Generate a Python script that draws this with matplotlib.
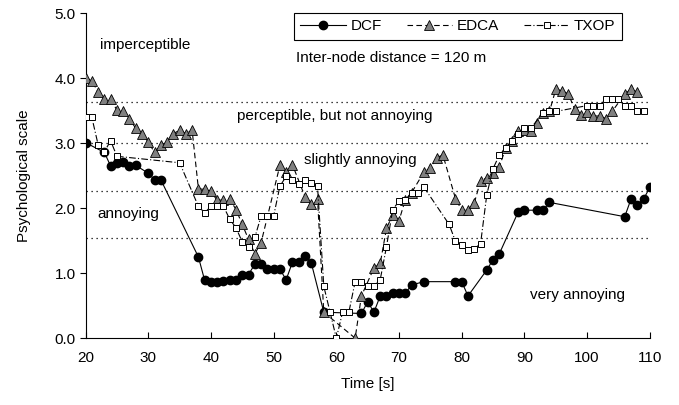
import matplotlib
matplotlib.use("Agg")
import matplotlib.pyplot as plt

plt.rcParams['font.family'] = ['Liberation Sans', 'DejaVu Sans']
plt.rcParams['font.size'] = 11

# DCF
dcf_t = [20, 23, 24, 25, 26, 27, 28, 30, 31, 32, 38, 39, 40, 41, 42, 43, 44, 45, 46,
         47, 48, 49, 50, 51, 52, 53, 54, 55, 56, 58, 64, 65, 66, 67, 68, 69, 70, 71,
         72, 74, 79, 80, 81, 84, 85, 86, 89, 90, 92, 93, 94, 106, 107, 108, 109, 110]
dcf_v = [3.01, 2.86, 2.65, 2.70, 2.71, 2.65, 2.66, 2.54, 2.44, 2.44, 1.25, 0.89, 0.87,
         0.87, 0.88, 0.89, 0.90, 0.98, 0.98, 1.14, 1.14, 1.06, 1.06, 1.06, 0.90, 1.17,
         1.18, 1.27, 1.16, 0.40, 0.38, 0.56, 0.40, 0.65, 0.65, 0.69, 0.69, 0.69, 0.82,
         0.87, 0.87, 0.87, 0.65, 1.05, 1.21, 1.30, 1.94, 1.97, 1.97, 1.97, 2.09, 1.87,
         2.14, 2.05, 2.14, 2.32]

# EDCA
edca_t = [20, 21, 22, 23, 24, 25, 26, 27, 28, 29, 30, 31, 32, 33, 34, 35, 36, 37, 38,
          39, 40, 41, 42, 43, 44, 45, 46, 47, 48, 51, 52, 53, 55, 56, 57, 58, 63, 64,
          66, 67, 68, 69, 70, 71, 72, 74, 75, 76, 77, 79, 80, 81, 82, 83, 84, 85, 86,
          87, 88, 89, 90, 91, 92, 93, 94, 95, 96, 97, 98, 99, 100, 101, 102, 103, 104,
          106, 107, 108]
edca_v = [4.01, 3.96, 3.79, 3.68, 3.68, 3.51, 3.50, 3.38, 3.23, 3.15, 3.02, 2.86, 2.97,
          3.02, 3.15, 3.20, 3.15, 3.20, 2.30, 2.29, 2.26, 2.12, 2.13, 2.14, 1.98, 1.75,
          1.52, 1.30, 1.47, 2.66, 2.56, 2.67, 2.18, 2.06, 2.14, 0.40, 0.0, 0.65, 1.08,
          1.15, 1.69, 1.90, 1.81, 2.13, 2.24, 2.56, 2.62, 2.78, 2.82, 2.15, 1.97, 1.97,
          2.08, 2.42, 2.47, 2.55, 2.64, 2.92, 3.03, 3.19, 3.20, 3.19, 3.32, 3.46, 3.49,
          3.83, 3.81, 3.76, 3.53, 3.43, 3.48, 3.42, 3.42, 3.38, 3.49, 3.76, 3.83, 3.79]

# TXOP
txop_t = [20, 21, 22, 23, 24, 25, 35, 38, 39, 40, 41, 42, 43, 44, 45, 46, 47, 48, 49,
          50, 51, 52, 53, 54, 55, 56, 57, 58, 59, 60, 61, 62, 63, 64, 65, 66, 67, 68,
          69, 70, 71, 72, 73, 74, 78, 79, 80, 81, 82, 83, 84, 85, 86, 87, 88, 89, 90,
          91, 93, 94, 95, 100, 101, 102, 103, 104, 105, 106, 107, 108, 109]
txop_v = [3.40, 3.40, 2.98, 2.87, 3.04, 2.80, 2.70, 2.03, 1.93, 2.03, 2.03, 2.03, 1.83,
          1.70, 1.48, 1.41, 1.55, 1.88, 1.88, 1.88, 2.34, 2.49, 2.43, 2.37, 2.43, 2.39,
          2.34, 0.80, 0.40, 0.0, 0.40, 0.40, 0.87, 0.87, 0.80, 0.80, 0.90, 1.41, 1.98,
          2.11, 2.12, 2.23, 2.23, 2.32, 1.75, 1.49, 1.43, 1.36, 1.38, 1.45, 2.21, 2.61,
          2.82, 2.92, 3.03, 3.15, 3.23, 3.23, 3.47, 3.49, 3.49, 3.58, 3.58, 3.58, 3.68,
          3.68, 3.68, 3.58, 3.58, 3.50, 3.50]

thresholds = [3.64, 3.0, 2.26, 1.54]
zones = ['imperceptible', 'perceptible, but not annoying', 'slightly annoying',
         'annoying', 'very annoying']

fig = plt.figure(figsize=(6.79, 4.05), dpi=100)
ax = fig.add_axes([0.126, 0.165, 0.831, 0.802])

for th in thresholds:
    ax.axhline(th, color='black', linestyle=(0, (1, 3)), linewidth=0.9, zorder=1)

ax.plot(dcf_t, dcf_v, '-', color='black', linewidth=0.8, marker='o', markersize=6,
        markerfacecolor='black', markeredgecolor='black', label='DCF', zorder=3)
ax.plot(edca_t, edca_v, color='black', linestyle=(0, (5, 3)), linewidth=0.8, marker='^',
        markersize=6.5, markerfacecolor='#808080', markeredgecolor='black',
        markeredgewidth=0.6, label='EDCA', zorder=4)
ax.plot(txop_t, txop_v, color='black', linestyle=(0, (6, 2, 1, 2)), linewidth=0.8,
        marker='s', markersize=4.5, markerfacecolor='white', markeredgecolor='black',
        markeredgewidth=0.7, label='TXOP', zorder=5)

# zone labels
ax.text(22.3, 4.51, zones[0], ha='left', va='center')
ax.text(59.8, 3.42, zones[1], ha='center', va='center')
ax.text(63.8, 2.74, zones[2], ha='center', va='center')
ax.text(21.9, 1.91, zones[3], ha='left', va='center')
ax.text(98.4, 0.67, zones[4], ha='center', va='center')
ax.text(53.6, 4.31, 'Inter-node distance = 120 m', ha='left', va='center')

ax.set_xlim(20, 110)
ax.set_ylim(0, 5)
ax.set_xticks(range(20, 111, 10))
ax.set_yticks([0, 1, 2, 3, 4, 5])
ax.set_yticklabels([f'{v:.1f}' for v in [0, 1, 2, 3, 4, 5]])
ax.set_xlabel('Time [s]', labelpad=9)
ax.set_ylabel('Psychological scale', labelpad=17)

ax.spines['top'].set_visible(False)
ax.spines['right'].set_visible(False)
for s in ['left', 'bottom']:
    ax.spines[s].set_linewidth(0.8)
ax.tick_params(axis='x', direction='in', length=4, width=0.8, pad=9)
ax.tick_params(axis='y', direction='out', length=4, width=0.8, pad=3)

leg = ax.legend(loc='upper left', bbox_to_anchor=(0.37, 1.0), ncol=3, frameon=True,
                fancybox=False, edgecolor='black', framealpha=1, borderpad=0.4,
                handlelength=3.0, handletextpad=0.3, columnspacing=1.6,
                borderaxespad=0, fontsize=11)
leg.get_frame().set_linewidth(0.8)

plt.savefig('out.png', dpi=100)
